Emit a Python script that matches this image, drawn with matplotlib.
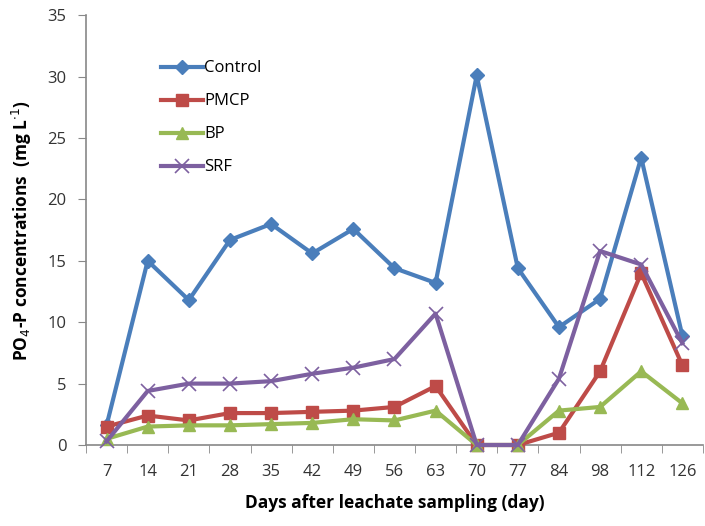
import numpy as np
import matplotlib.pyplot as plt

days = ["7", "14", "21", "28", "35", "42", "49", "56", "63", "70", "77",
        "84", "98", "112", "126"]
control = [1.6, 15.0, 11.8, 16.7, 18.0, 15.6, 17.6, 14.4, 13.2, 30.1, 14.4,
           9.6, 11.9, 23.4, 8.9]
pmcp = [1.5, 2.4, 2.0, 2.6, 2.6, 2.7, 2.8, 3.1, 4.8, 0.0, 0.0,
        1.0, 6.0, 14.0, 6.5]
bp = [0.5, 1.5, 1.6, 1.6, 1.7, 1.8, 2.1, 2.0, 2.8, 0.0, 0.0,
      2.8, 3.1, 6.0, 3.4]
srf = [0.3, 4.4, 5.0, 5.0, 5.2, 5.8, 6.3, 7.0, 10.7, 0.0, 0.0,
       5.4, 15.8, 14.7, 8.3]

plt.rcParams['font.family'] = ['Open Sans', 'DejaVu Sans']

fig = plt.figure(figsize=(7.05, 5.26), dpi=100)
ax = fig.add_axes([0.122, 0.154, 0.875, 0.817])

x = np.arange(len(days))
# series: data, label, color, marker, marker size
series = [
    (control, "Control", "#4A7EBB", "D", 7.5),
    (pmcp, "PMCP", "#BE4B48", "s", 8.5),
    (bp, "BP", "#98B954", "^", 8.5),
    (srf, "SRF", "#7D60A0", "x", 10),
]
for vals, name, col, mk, ms in series:
    ax.plot(x, vals, color=col, lw=3, marker=mk, markersize=ms,
            markeredgewidth=1.2 if mk == "x" else 1, markeredgecolor=col,
            label=name, clip_on=False, zorder=3)

ax.set_xlim(-0.5, len(days) - 0.5)
ax.set_ylim(0, 35)
ax.set_yticks(np.arange(0, 36, 5))

# category labels centred, tick marks between categories
ax.set_xticks(x)
ax.set_xticklabels(days)
ax.set_xticks(np.arange(-0.5, len(days), 1), minor=True)
ax.tick_params(axis="x", which="major", length=0, pad=14, labelsize=12,
               colors="#333333")
ax.tick_params(axis="x", which="minor", length=6, color="#888888",
               direction="out")
ax.tick_params(axis="y", length=6, color="#888888", labelsize=12,
               labelcolor="#333333", pad=8)

for side in ["top", "right"]:
    ax.spines[side].set_visible(False)
for side in ["left", "bottom"]:
    ax.spines[side].set_color("#888888")
    ax.spines[side].set_linewidth(1.2)

ax.set_xlabel("Days after leachate sampling (day)", fontsize=12.5,
              fontweight="bold", labelpad=10)
ax.set_ylabel("PO$_4$-P concentrations  (mg L$^{\\cdot1}$)", fontsize=12.5,
              fontweight="bold", labelpad=10)

ax.legend(loc="upper left", bbox_to_anchor=(0.097, 0.93), frameon=False,
          fontsize=12, labelspacing=1.02, handlelength=2.5, handletextpad=0.1)

fig.savefig("out.png", dpi=100)
